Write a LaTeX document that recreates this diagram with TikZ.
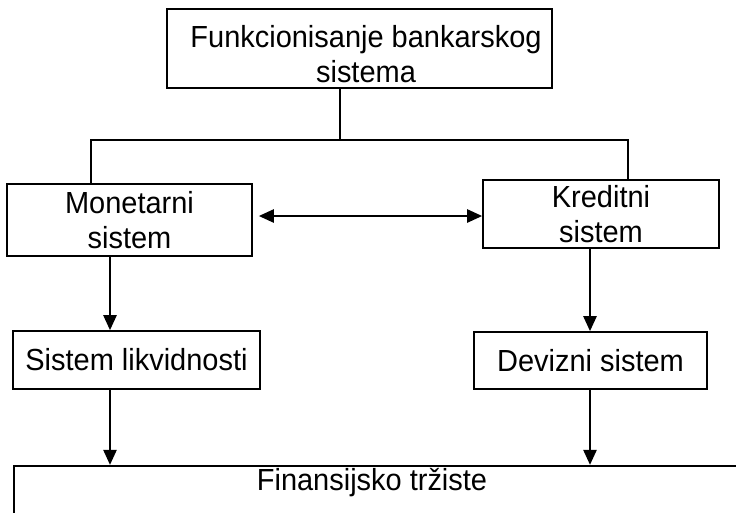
\documentclass[tikz,border=0pt]{standalone}
\usepackage{fontspec}
\setmainfont[FakeStretch=0.95]{Liberation Sans}
\usetikzlibrary{arrows.meta}
\tikzset{
  box/.style={draw, line width=1.6pt, inner sep=0pt, align=center, font=\fontsize{30.5}{34.5}\selectfont},
  treeline/.style={line width=1.5pt},
  arr/.style={line width=2.4pt, -{Triangle[length=15pt,width=13pt]}},
  darr/.style={line width=2.4pt, {Triangle[length=15pt,width=13pt]}-{Triangle[length=15pt,width=13pt]}},
  lbl/.style={inner sep=0pt, font=\fontsize{30.5}{34.5}\selectfont}
}
\begin{document}
\begin{tikzpicture}[x=1pt,y=1pt]
\useasboundingbox (0,0) rectangle (736,-512);
\clip (0,0) rectangle (736,-512);
\fill[white] (0,0) rectangle (736,-512);
% nodes
\node[box, minimum width=385pt, minimum height=79pt] (top) at (359.5,-48.5) {};
\node[lbl, align=center] (toptext) at (366,-54) {Funkcionisanje bankarskog\\sistema};
\node[box, minimum width=245pt, minimum height=72pt] (mon) at (129.5,-220) {Monetarni\\sistem};
\node[box, minimum width=236pt, minimum height=68pt] (kred) at (601,-214) {Kreditni\\sistem};
\node[box, minimum width=247pt, minimum height=58pt] (sl) at (136.5,-360) {Sistem likvidnosti};
\node[box, minimum width=233pt, minimum height=57pt] (dev) at (590.5,-360.5) {Devizni sistem};
\node[box, line width=2.2pt, minimum width=760pt, minimum height=80pt] (fin) at (394,-506) {};
\node[lbl] (fintext) at (372,-483) {Finansijsko tržiste};
% helper coordinates
\coordinate (tm) at (340,-140);
\coordinate (tl) at (91,-140);
\coordinate (tr) at (628,-140);
\coordinate (lx) at (110,0);
\coordinate (rx) at (590,0);
\coordinate (da) at (0,-216);
% tree
\draw[treeline] (top.south -| tm) -- (tm);
\draw[treeline] (mon.north -| tl) -- (tl) -- (tr) -- (kred.north -| tr);
% double arrow
\draw[darr] ([xshift=6pt]mon.east |- da) -- (kred.west |- da);
% vertical arrows
\draw[arr] (mon.south -| lx) -- (sl.north -| lx);
\draw[arr] (sl.south -| lx) -- (fin.north -| lx);
\draw[arr] (kred.south -| rx) -- (dev.north -| rx);
\draw[arr] (dev.south -| rx) -- (fin.north -| rx);
\end{tikzpicture}
\end{document}
